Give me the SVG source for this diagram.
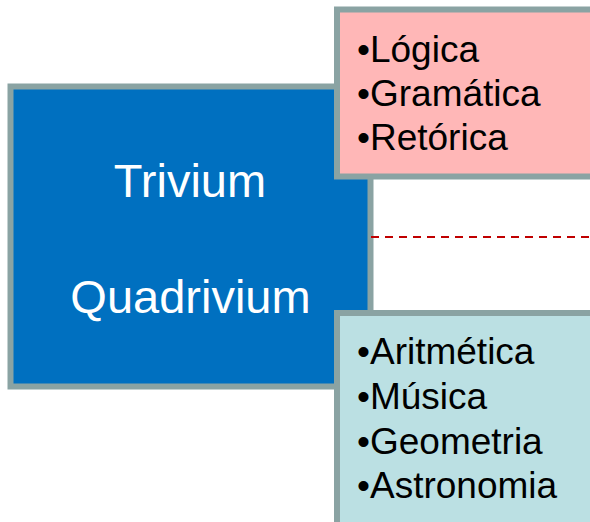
<svg xmlns="http://www.w3.org/2000/svg" width="590" height="522" viewBox="0 0 590 522">
<style>
.box{stroke:#8AA3A3;stroke-width:6}
.main{font-family:"Liberation Sans",Arial,sans-serif;font-size:47px;fill:#FFFFFF;text-anchor:middle}
.item{font-family:"Liberation Sans",Arial,sans-serif;font-size:37px;fill:#000000}
.conn{stroke:#C00000;stroke-width:2;stroke-dasharray:8 6;fill:none}
</style>
<rect width="590" height="522" fill="#FFFFFF"/>
<g id="main">
<rect class="box" x="10.5" y="86.5" width="360" height="300" fill="#0070C0" stroke-width="5"/>
<text class="main" x="190" y="197">Trivium</text>
<text class="main" x="190.5" y="313">Quadrivium</text>
</g>
<g id="trivium">
<rect class="box" x="337" y="9.5" width="260" height="167" fill="#FFB7B7"/>
<text class="item" x="357" y="62">•Lógica</text>
<text class="item" x="357" y="106">•Gramática</text>
<text class="item" x="357" y="150">•Retórica</text>
</g>
<g id="quadrivium">
<rect class="box" x="337" y="313" width="260" height="220" fill="#BBE0E3"/>
<text class="item" x="357" y="364">•Aritmética</text>
<text class="item" x="357" y="409">•Música</text>
<text class="item" x="357" y="453.5">•Geometria</text>
<text class="item" x="357" y="498">•Astronomia</text>
</g>
<g id="connectors">
<line class="conn" x1="371" y1="237" x2="590" y2="237"/>
</g>
</svg>
